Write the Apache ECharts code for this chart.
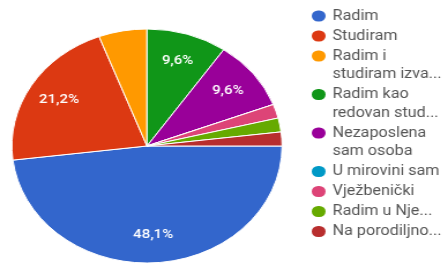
<!DOCTYPE html>
<html>
<head>
<meta charset="utf-8">
<script src="https://cdn.jsdelivr.net/npm/echarts@6/dist/echarts.min.js"></script>
<style>
  html, body { margin: 0; padding: 0; background: #fff; overflow: hidden; }
  /* the reference is a stretched screenshot, so draw narrow and stretch x */
  #main { width: 388px; height: 278px; transform: scaleX(1.1546); transform-origin: 0 0; }
</style>
</head>
<body>
<div id="main"></div>
<script>
// odgovori (legend text as shown, line breaks included)
const categories = [
  'Radim',
  'Studiram',
  'Radim i\nstudiram izva...',
  'Radim kao\nredovan stud...',
  'Nezaposlena\nsam osoba',
  'U mirovini sam',
  'Vježbenički',
  'Radim u Nje...',
  'Na porodiljno...'
];
// broj odgovora (52 ukupno)
const values = [25, 11, 3, 5, 5, 0, 1, 1, 1];
const colors = ['#3366cc', '#dc3912', '#ff9900', '#109618', '#990099', '#0099c6', '#dd4477', '#66aa00', '#b82e2e'];

const chart = echarts.init(document.getElementById('main'));

const pieData = categories.map((name, i) => ({ name: name, value: values[i] }));

// rich styles: one coloured dot per legend item
const rich = {
  s: { width: 12, height: 11 },
  t: { fontSize: 14, lineHeight: 18.5, color: '#555', padding: [0, 0, 0, 6], fontFamily: 'Roboto' }
};
colors.forEach((c, i) => {
  rich['d' + i] = { width: 12, height: 11, borderRadius: 6, backgroundColor: c };
});

const option = {
  animation: false,
  color: colors,
  legend: {
    orient: 'vertical',
    left: 264,
    top: 9,
    padding: 0,
    itemGap: 6,
    itemWidth: 0,
    itemHeight: 0,
    selectedMode: false,
    data: categories,
    formatter: (name) => {
      const i = categories.indexOf(name);
      return name.split('\n').map((line, k) => (k === 0 ? '{d' + i + '|}' : '{s|}') + '{t|' + line + '}').join('\n');
    },
    textStyle: { rich: rich }
  },
  series: [
    {
      type: 'pie',
      center: [127.3, 146],
      radius: [0, 117],
      startAngle: 0,
      clockwise: true,
      silent: true,
      itemStyle: { borderColor: '#fff', borderWidth: 1 },
      label: { show: false },
      labelLine: { show: false },
      data: pieData
    },
    {
      // transparent copy, only for placing the percent labels further out
      type: 'pie',
      center: [127.3, 146],
      radius: [0, 172],
      startAngle: 0,
      clockwise: true,
      silent: true,
      percentPrecision: 1,
      itemStyle: { color: 'transparent', borderWidth: 0 },
      label: {
        show: true,
        position: 'inside',
        color: '#fff',
        fontSize: 13,
        fontWeight: 500,
        fontFamily: 'Roboto',
        formatter: (p) => p.percent >= 9 ? p.percent.toFixed(1).replace('.', ',') + '%' : ''
      },
      labelLine: { show: false },
      data: pieData
    }
  ]
};

chart.setOption(option);
</script>
</body>
</html>
